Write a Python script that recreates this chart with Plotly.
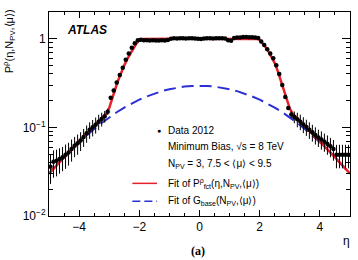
import plotly.graph_objects as go

# ---- data ----
eta_bins = [-4.95, -4.85, -4.75, -4.65, -4.55, -4.45, -4.35, -4.25, -4.15, -4.05,
            -3.95, -3.85, -3.75, -3.65, -3.55, -3.45, -3.35, -3.25, -3.15, -3.05,
            -2.95, -2.85, -2.75, -2.65, -2.55, -2.45, -2.35, -2.25, -2.15, -2.05,
            -1.95, -1.85, -1.75, -1.65, -1.55, -1.45, -1.35, -1.25, -1.15, -1.05,
            -0.95, -0.85, -0.75, -0.65, -0.55, -0.45, -0.35, -0.25, -0.15, -0.05,
            0.05, 0.15, 0.25, 0.35, 0.45, 0.55, 0.65, 0.75, 0.85, 0.95,
            1.05, 1.15, 1.25, 1.35, 1.45, 1.55, 1.65, 1.75, 1.85, 1.95,
            2.05, 2.15, 2.25, 2.35, 2.45, 2.55, 2.65, 2.75, 2.85, 2.95,
            3.05, 3.15, 3.25, 3.35, 3.45, 3.55, 3.65, 3.75, 3.85, 3.95,
            4.05, 4.15, 4.25, 4.35, 4.45, 4.55, 4.65, 4.75, 4.85, 4.95]

data_2012 = [0.036, 0.041, 0.042, 0.044, 0.046, 0.049, 0.052, 0.057, 0.062, 0.066,
             0.071, 0.078, 0.086, 0.094, 0.100, 0.107, 0.116, 0.124, 0.133, 0.150,
             0.215, 0.26, 0.32, 0.39, 0.47, 0.58, 0.68, 0.79, 0.89, 0.96,
             0.97, 0.96, 0.96, 0.955, 0.96, 0.955, 0.955, 0.96, 0.955, 0.965,
             1.0, 1.01, 1.005, 1.01, 1.01, 1.005, 1.01, 1.01, 1.005, 1.0,
             0.995, 1.005, 1.01, 1.01, 1.005, 1.01, 1.01, 1.01, 1.005, 0.96,
             0.945, 1.02, 1.03, 1.03, 1.045, 1.045, 1.04, 1.035, 1.03, 1.02,
             0.93, 0.85, 0.76, 0.68, 0.60, 0.50, 0.40, 0.30, 0.22, 0.165,
             0.140, 0.131, 0.123, 0.116, 0.108, 0.101, 0.094, 0.088, 0.082, 0.077,
             0.073, 0.069, 0.065, 0.061, 0.057, 0.049, 0.049, 0.049, 0.049, 0.049]

data_err = [0.013, 0.014, 0.014, 0.014, 0.014, 0.015, 0.015, 0.016, 0.016, 0.017,
            0.017, 0.018, 0.019, 0.020, 0.021, 0.022, 0.023, 0.022, 0.020, 0.012,
            0.008, 0.008, 0.009, 0.010, 0.010, 0.012, 0.012, 0.012, 0.012, 0.012,
            0.010, 0.010, 0.010, 0.010, 0.010, 0.010, 0.010, 0.010, 0.010, 0.010,
            0.010, 0.010, 0.010, 0.010, 0.010, 0.010, 0.010, 0.010, 0.010, 0.010,
            0.010, 0.010, 0.010, 0.010, 0.010, 0.010, 0.010, 0.010, 0.010, 0.010,
            0.010, 0.010, 0.010, 0.010, 0.010, 0.010, 0.010, 0.010, 0.010, 0.010,
            0.012, 0.012, 0.012, 0.012, 0.012, 0.010, 0.010, 0.009, 0.008, 0.008,
            0.012, 0.020, 0.023, 0.023, 0.022, 0.021, 0.020, 0.019, 0.018, 0.017,
            0.017, 0.016, 0.016, 0.015, 0.015, 0.0145, 0.0145, 0.0145, 0.0145, 0.0145]

fit_eta = [-5.0, -4.5, -4.0, -3.5, -3.25, -3.1, -3.0, -2.9, -2.8, -2.7, -2.6, -2.5,
           -2.4, -2.3, -2.2, -2.1, -2.0, -1.9, -1.0, 0.0, 1.0, 1.9, 2.0, 2.1, 2.2,
           2.3, 2.4, 2.5, 2.6, 2.7, 2.8, 2.9, 3.0, 3.1, 3.25, 3.5, 4.0, 4.5, 5.0]
fit_p = [0.030, 0.046, 0.070, 0.104, 0.126, 0.142, 0.165, 0.215, 0.27, 0.34, 0.42, 0.50,
         0.59, 0.68, 0.78, 0.88, 0.96, 0.995, 1.0, 1.0, 1.0, 0.995, 0.97, 0.89, 0.80,
         0.71, 0.62, 0.53, 0.43, 0.34, 0.26, 0.20, 0.163, 0.142, 0.126, 0.104, 0.070, 0.046, 0.030]

gbase_eta = [-5.0, -4.75, -4.5, -4.25, -4.0, -3.75, -3.5, -3.25, -3.0, -2.75, -2.5, -2.25,
             -2.0, -1.75, -1.5, -1.25, -1.0, -0.75, -0.5, -0.25, 0.0, 0.25, 0.5, 0.75,
             1.0, 1.25, 1.5, 1.75, 2.0, 2.25, 2.5, 2.75, 3.0, 3.25, 3.5, 3.75, 4.0,
             4.25, 4.5, 4.75, 5.0]
gbase = [0.030, 0.0375, 0.046, 0.0566, 0.068, 0.0816, 0.096, 0.112, 0.130, 0.148, 0.167, 0.186,
         0.205, 0.223, 0.240, 0.256, 0.269, 0.280, 0.288, 0.293, 0.295, 0.293, 0.288, 0.280,
         0.269, 0.256, 0.240, 0.223, 0.205, 0.186, 0.167, 0.148, 0.130, 0.112, 0.096, 0.0816, 0.068,
         0.0566, 0.046, 0.0375, 0.030]

x_ticks = [-4, -2, 0, 2, 4]
x_ticktext = ["−4", "−2", "0", "2", "4"]
y_ticks = [0.01, 0.1, 1]
y_ticktext = ["10<sup>−2</sup>", "10<sup>−1</sup>", "1"]

RED = "#e8202a"
BLUE = "#2b2fd6"
FONT = "Liberation Sans, Arial, sans-serif"

fig = go.Figure()
fig.add_trace(go.Scatter(x=gbase_eta, y=gbase, mode="lines",
                         line=dict(color=BLUE, width=2, dash="12px,6px"), showlegend=False))
fig.add_trace(go.Scatter(x=fit_eta, y=fit_p, mode="lines",
                         line=dict(color=RED, width=2.5), showlegend=False))
fig.add_trace(go.Scatter(x=eta_bins, y=data_2012, mode="markers",
                         marker=dict(color="black", size=4.5),
                         error_y=dict(type="data", array=data_err, color="black", thickness=1, width=0),
                         showlegend=False))

minor_y = [0.02, 0.03, 0.04, 0.05, 0.06, 0.07, 0.08, 0.09,
           0.2, 0.3, 0.4, 0.5, 0.6, 0.7, 0.8, 0.9, 2]

fig.update_layout(
    width=358, height=260,
    margin=dict(l=49, r=8, t=12, b=44),
    paper_bgcolor="white", plot_bgcolor="white",
    font=dict(family=FONT, size=12, color="black"),
    xaxis=dict(range=[-5, 5], tickvals=x_ticks, ticktext=x_ticktext,
               ticks="inside", ticklen=6, tickwidth=1, tickcolor="black",
               showline=True, linecolor="black", linewidth=1, mirror="allticks",
               showgrid=False, zeroline=False,
               minor=dict(ticks="inside", ticklen=3, dtick=0.5, tickcolor="black", showgrid=False)),
    yaxis=dict(type="log", range=[-2, 0.301], tickvals=y_ticks, ticktext=y_ticktext,
               ticks="inside", ticklen=8, tickwidth=1, tickcolor="black",
               showline=True, linecolor="black", linewidth=1, mirror="allticks",
               showgrid=False, zeroline=False,
               minor=dict(ticks="inside", ticklen=4, tickvals=minor_y, tickcolor="black", showgrid=False)),
)

legend_x = 0.389
ann = [
    dict(text="<b><i>ATLAS</i></b>", x=0.053, y=0.91, xanchor="left", yanchor="middle",
         font=dict(size=12)),
    dict(text="●", x=0.366, y=0.420, xanchor="center", yanchor="middle", font=dict(size=7)),
    dict(text="Data 2012", x=legend_x, y=0.420, xanchor="left", yanchor="middle", font=dict(size=10)),
    dict(text="Minimum Bias, √s = 8 TeV", x=legend_x, y=0.342, xanchor="left", yanchor="middle",
         font=dict(size=10)),
    dict(text="N<sub>PV</sub> = 3, 7.5 &lt; ⟨μ⟩ &lt; 9.5", x=legend_x, y=0.253, xanchor="left",
         yanchor="middle", font=dict(size=10)),
    dict(text="Fit of P<sup>ρ</sup><sub>fct</sub>(η,N<sub>PV</sub>,⟨μ⟩)", x=legend_x, y=0.160,
         xanchor="left", yanchor="middle", font=dict(size=10)),
    dict(text="Fit of G<sub>base</sub>(N<sub>PV</sub>,⟨μ⟩)", x=legend_x, y=0.072,
         xanchor="left", yanchor="middle", font=dict(size=10)),
    dict(text="P<sup>ρ</sup>(η,N<sub>PV</sub>,⟨μ⟩)", x=-0.13, y=0.856, xanchor="center",
         yanchor="middle", textangle=-90, font=dict(size=11)),
    dict(text="η", x=0.99, y=-0.124, xanchor="center", yanchor="middle", font=dict(size=12)),
    dict(text="<b>(a)</b>", x=0.495, y=-0.174, xanchor="center", yanchor="middle",
         font=dict(size=12, family="Liberation Serif, Times New Roman, serif")),
]
for a in ann:
    a.update(xref="paper", yref="paper", showarrow=False)
fig.update_layout(annotations=ann)

fig.add_shape(type="line", xref="paper", yref="paper", x0=0.277, x1=0.359, y0=0.160, y1=0.160,
              line=dict(color=RED, width=1.5))
fig.add_shape(type="line", xref="paper", yref="paper", x0=0.277, x1=0.359, y0=0.072, y1=0.072,
              line=dict(color=BLUE, width=1.5, dash="8px,4px"))

fig.write_html("out.html")
